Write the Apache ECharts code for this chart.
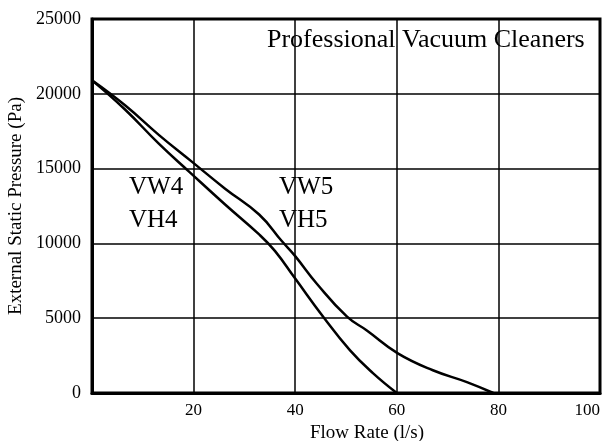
<!DOCTYPE html>
<html>
<head>
<meta charset="UTF-8">
<title>Professional Vacuum Cleaners</title>
<script src="https://cdn.jsdelivr.net/npm/echarts@6/dist/echarts.min.js"></script>
<style>
  html, body { margin: 0; padding: 0; background: #fff; }
</style>
</head>
<body>
<div id="main" style="width: 604px;height:441px;"></div>
<script type="text/javascript">
// flow rate (l/s) and pressure (Pa)
var flow4 = [0, 6.5, 13.2, 19.1, 26.2, 32.9, 36.0, 40.0, 45.5, 50.8, 55.3, 60.0];
var pres4 = [20900, 18950, 16650, 14800, 12600, 10600, 9500, 7650, 5100, 2850, 1330, 0];
var flow5 = [0, 6.5, 13.2, 19.7, 26.2, 32.9, 37.4, 40.0, 44.3, 50.2, 54.1, 60.2, 67.1, 73.8, 79.0];
var pres5 = [20900, 19230, 17240, 15450, 13660, 11930, 10140, 9150, 7290, 5100, 4180, 2650, 1520, 730, 0];
var xTicks = [0, 20, 40, 60, 80, 100];
var yTicks = [0, 5000, 10000, 15000, 20000, 25000];

function pairs(xs, ys) {
    var out = [];
    for (var i = 0; i < xs.length; i++) out.push([xs[i], ys[i]]);
    return out;
}

var serif = "'Liberation Serif', 'Times New Roman', serif";
var myChart = echarts.init(document.getElementById('main'));

var option = {
    animation: false,
    backgroundColor: '#fff',
    textStyle: { fontFamily: serif, color: '#000' },
    grid: {
        left: 92, right: 4, top: 19, bottom: 48,
        outerBoundsMode: 'none',
        show: true, borderColor: '#000', borderWidth: 3
    },
    xAxis: {
        type: 'value',
        min: xTicks[0], max: xTicks[xTicks.length - 1], interval: 20,
        name: 'Flow Rate (l/s)',
        nameLocation: 'middle', nameGap: 30,
        nameTextStyle: { fontFamily: serif, fontSize: 19, color: '#000', padding: [0, 0, 0, 42] },
        axisLine: { lineStyle: { color: '#000', width: 3 } },
        axisTick: { show: false },
        axisLabel: {
            fontFamily: serif, fontSize: 17, color: '#000', margin: 9,
            alignMaxLabel: 'right',
            formatter: function (v) { return v === 0 ? '' : String(v); }
        },
        splitLine: { lineStyle: { color: '#000', width: 1.5 } }
    },
    yAxis: {
        type: 'value',
        min: yTicks[0], max: yTicks[yTicks.length - 1], interval: 5000,
        name: 'External Static Pressure (Pa)',
        nameLocation: 'middle', nameGap: 64,
        nameTextStyle: { fontFamily: serif, fontSize: 19, color: '#000' },
        axisLine: { show: true, lineStyle: { color: '#000', width: 3 } },
        axisTick: { show: false },
        axisLabel: {
            fontFamily: serif, fontSize: 18, color: '#000', margin: 11,
            formatter: function (v) { return String(v); }
        },
        splitLine: { lineStyle: { color: '#000', width: 1.5 } }
    },
    graphic: [
        { type: 'text', left: 267, top: 27,
          style: { text: 'Professional Vacuum Cleaners', font: '26px ' + serif, fill: '#000' } },
        { type: 'text', left: 129, top: 175,
          style: { text: 'VW4', font: '25px ' + serif, fill: '#000' } },
        { type: 'text', left: 129, top: 208,
          style: { text: 'VH4', font: '25px ' + serif, fill: '#000' } },
        { type: 'text', left: 279, top: 175,
          style: { text: 'VW5', font: '25px ' + serif, fill: '#000' } },
        { type: 'text', left: 279, top: 208,
          style: { text: 'VH5', font: '25px ' + serif, fill: '#000' } }
    ],
    series: [
        {
            name: 'VW4 / VH4',
            type: 'line',
            data: pairs(flow4, pres4),
            smooth: 0.45,
            showSymbol: false,
            lineStyle: { color: '#000', width: 2.5 }
        },
        {
            name: 'VW5 / VH5',
            type: 'line',
            data: pairs(flow5, pres5),
            smooth: 0.45,
            showSymbol: false,
            lineStyle: { color: '#000', width: 2.5 }
        }
    ]
};

myChart.setOption(option);
</script>
</body>
</html>
